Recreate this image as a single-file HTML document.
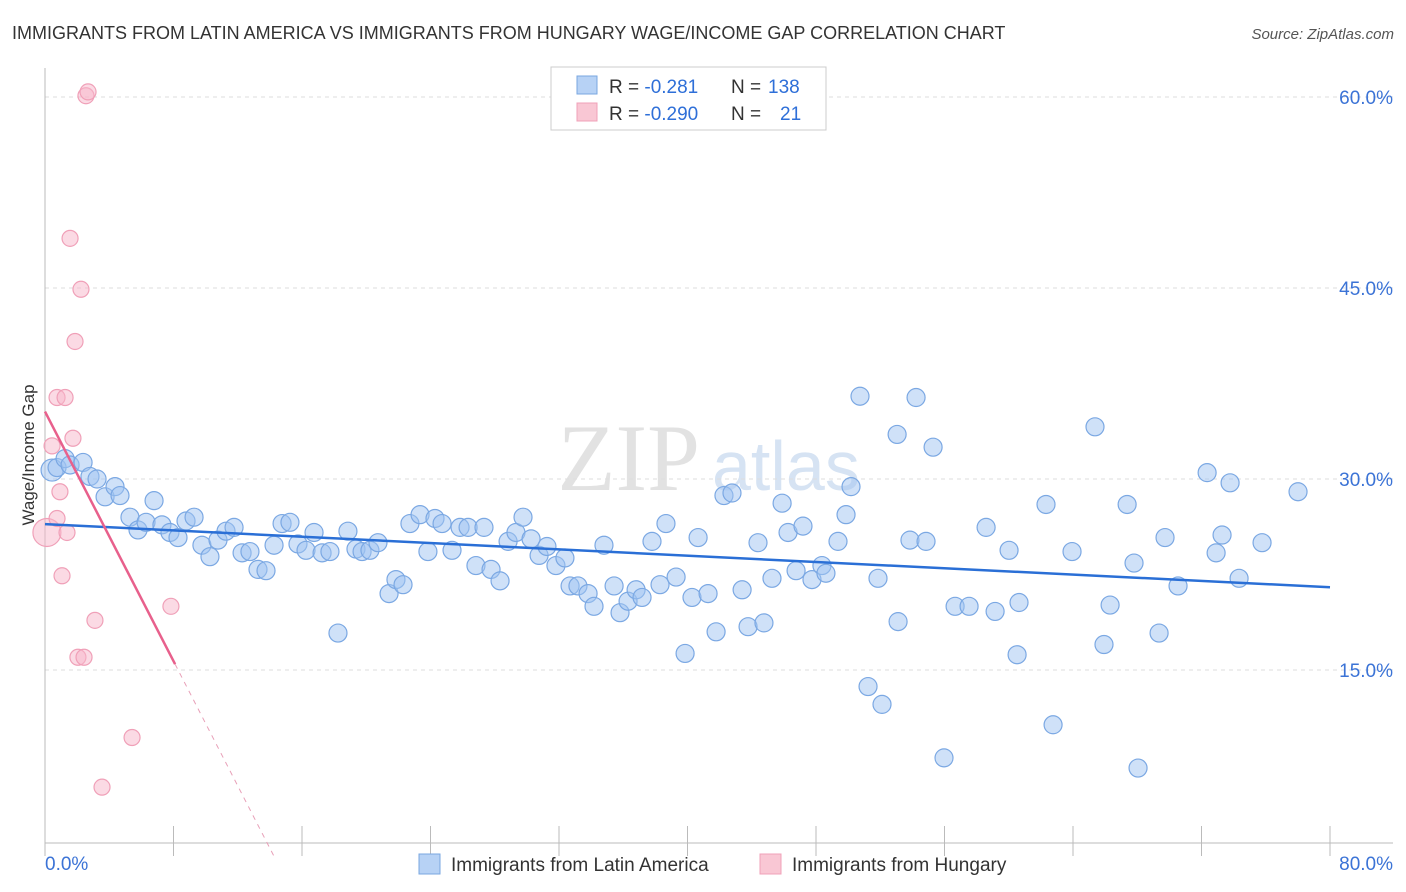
<!DOCTYPE html>
<html><head><meta charset="utf-8"><style>
body{margin:0;background:#fff;font-family:"Liberation Sans",sans-serif}
#c{position:relative;width:1406px;height:892px;overflow:hidden}
</style></head><body>
<div id="c">
<svg id="s" width="1406" height="892" xmlns="http://www.w3.org/2000/svg">
<text x="12" y="39" font-size="18" fill="#333">IMMIGRANTS FROM LATIN AMERICA VS IMMIGRANTS FROM HUNGARY WAGE/INCOME GAP CORRELATION CHART</text>
<text x="1394" y="39" font-size="15" fill="#555" font-style="italic" text-anchor="end">Source: ZipAtlas.com</text>
<text x="700" y="490" font-size="95" fill="#e2e2e2" font-family="Liberation Serif" text-anchor="end">ZIP</text>
<text x="712" y="490" font-size="70" fill="#d6e3f3">atlas</text>
<text transform="translate(34,455) rotate(-90)" font-size="17" fill="#333" text-anchor="middle">Wage/Income Gap</text>
<g id="grid"></g><g id="axes"></g><g id="marks"></g>
<g>
<rect x="551" y="67" width="275" height="63" fill="#fff" stroke="#ccc"/>
<rect x="577" y="76" width="20" height="18" fill="#b7d2f5" stroke="#7aa7e0"/>
<rect x="577" y="103" width="20" height="18" fill="#f9c7d4" stroke="#f0a0b8"/>
<text x="609" y="93" font-size="19" fill="#333">R = <tspan fill="#2e6fd8">-0.281</tspan><tspan x="731">N = </tspan><tspan fill="#2e6fd8" x="768">138</tspan></text>
<text x="609" y="120" font-size="19" fill="#333">R = <tspan fill="#2e6fd8">-0.290</tspan><tspan x="731">N = </tspan><tspan fill="#2e6fd8" x="780">21</tspan></text>
</g>
<g>
<rect x="419" y="854" width="21" height="20" fill="#b7d2f5" stroke="#7aa7e0"/>
<text x="451" y="871" font-size="19" fill="#333">Immigrants from Latin America</text>
<rect x="760" y="854" width="21" height="20" fill="#f9c7d4" stroke="#f0a0b8"/>
<text x="792" y="871" font-size="19" fill="#333">Immigrants from Hungary</text>
</g>
</svg></div>
<script>
const xTicks=[0,10,20,30,40,50,60,70,80];
const yTicks=[15,30,45,60];
const blueX=[0.44,0.75,1.25,1.56,2.37,2.8,3.24,3.74,4.36,4.67,5.29,5.79,6.29,6.79,7.28,7.78,8.28,8.78,9.28,9.77,10.27,10.77,11.27,11.77,12.27,12.76,13.26,13.76,14.26,14.76,15.25,15.75,16.25,16.75,17.25,17.74,18.24,18.86,19.36,19.74,20.23,20.73,21.42,21.85,22.29,22.72,23.35,23.84,24.28,24.72,25.34,25.84,26.34,26.83,27.33,27.77,28.33,28.83,29.32,29.76,30.26,30.76,31.25,31.81,32.37,32.69,33.18,33.81,34.18,34.8,35.43,35.8,36.3,36.8,37.17,37.79,38.29,38.66,39.29,39.85,40.28,40.66,41.28,41.78,42.27,42.77,43.4,43.77,44.39,44.76,45.26,45.89,46.26,46.76,47.19,47.75,48.37,48.62,49.37,49.87,50.18,50.74,51.24,51.86,52.11,53.05,53.11,53.85,54.23,54.85,55.29,55.97,56.66,57.53,58.59,59.15,60.02,60.52,60.64,62.32,62.76,63.94,65.37,65.93,66.31,67.37,67.8,68.05,69.36,69.73,70.54,72.35,72.91,73.28,73.78,74.34,75.77,78.01];
const blueY=[30.7,30.9,31.6,31.1,31.3,30.2,30.0,28.6,29.4,28.7,27.0,26.0,26.6,28.3,26.4,25.8,25.4,26.7,27.0,24.8,23.9,25.2,25.9,26.2,24.2,24.3,22.9,22.8,24.8,26.5,26.6,24.9,24.4,25.8,24.2,24.3,17.9,25.9,24.5,24.3,24.4,25.0,21.0,22.1,21.7,26.5,27.2,24.3,26.9,26.5,24.4,26.2,26.2,23.2,26.2,22.9,22.0,25.1,25.8,27.0,25.3,24.0,24.7,23.2,23.8,21.6,21.6,21.0,20.0,24.8,21.6,19.5,20.4,21.3,20.7,25.1,21.7,26.5,22.3,16.3,20.7,25.4,21.0,18.0,28.7,28.9,21.3,18.4,25.0,18.7,22.2,28.1,25.8,22.8,26.3,22.1,23.2,22.6,25.1,27.2,29.4,36.5,13.7,22.2,12.3,33.5,18.8,25.2,36.4,25.1,32.5,8.1,20.0,20.0,26.2,19.6,24.4,16.2,20.3,28.0,10.7,24.3,34.1,17.0,20.1,28.0,23.4,7.3,17.9,25.4,21.6,30.5,24.2,25.6,29.7,22.2,25.0,29.0];
const pinkX=[0.12,0.44,0.75,0.75,0.93,1.06,1.25,1.37,1.56,1.74,1.87,2.05,2.24,2.43,2.55,2.68,3.11,3.55,5.42,7.84];
const pinkY=[25.8,32.6,36.4,26.9,29.0,22.4,36.4,25.8,48.9,33.2,40.8,16.0,44.9,16.0,60.1,60.4,18.9,5.8,9.7,20.0];
const blueTrend=[26.46,21.5];   // y at x=0 and x=80
const pinkTrend=[35.3,-2.45];   // intercept, slope per x unit
const pinkSolidEnd=8.1, pinkDashEnd=14.35;
const NS="http://www.w3.org/2000/svg";
const X=v=>45+v/80*1285, Y=v=>861-v/15*191;
function mk(t,a,p){const e=document.createElementNS(NS,t);for(const k in a)e.setAttribute(k,a[k]);p.appendChild(e);return e;}
const grid=document.getElementById('grid'),axes=document.getElementById('axes'),marks=document.getElementById('marks');
yTicks.forEach(t=>{
 const l=mk('line',{x1:45,x2:1393,y1:Y(t),y2:Y(t),stroke:'#ddd','stroke-dasharray':'4,4'},grid);
 
 
 const tx=mk('text',{x:1393,y:Y(t)+7,'font-size':19,fill:'#3b73d6','text-anchor':'end'},axes);
 tx.textContent=t.toFixed(1)+'%';
 
 
});
let ax=mk('line',{x1:45,x2:45,y1:68,y2:843,stroke:'#bbb'},axes);


ax=mk('line',{x1:45,x2:1393,y1:843,y2:843,stroke:'#bbb'},axes);


for(let i=0;i<=10;i++){const tk=mk('line',{x1:X(i*8),x2:X(i*8),y1:826,y2:856,stroke:'#bbb'},axes);
 
 }
[[0,'0.0%','start',45],[80,'80.0%','end',1393]].forEach(d=>{const t=mk('text',{x:d[3],y:870,'font-size':19,fill:'#3b73d6','text-anchor':d[2]},axes);t.textContent=d[1];
 
 });
blueX.forEach((x,i)=>{const c=mk('circle',{cx:X(x),cy:Y(blueY[i]),r:i==0?11:9,fill:'rgba(160,196,242,0.5)',stroke:'#7ba8e3','stroke-width':1.2},marks);
 
 });
pinkX.forEach((x,i)=>{const c=mk('circle',{cx:X(x),cy:Y(pinkY[i]),r:i==0?14:8,fill:'rgba(248,182,202,0.5)',stroke:'#f0a0b8','stroke-width':1.2},marks);
 
 });
let l=mk('line',{x1:X(0),y1:Y(blueTrend[0]),x2:X(80),y2:Y(blueTrend[1]),stroke:'#2a6fd6','stroke-width':2.5},marks);


const py=x=>pinkTrend[0]+pinkTrend[1]*x;
l=mk('line',{x1:X(0),y1:Y(py(0)),x2:X(pinkSolidEnd),y2:Y(py(pinkSolidEnd)),stroke:'#e8608c','stroke-width':2.5},marks);


l=mk('line',{x1:X(pinkSolidEnd),y1:Y(py(pinkSolidEnd)),x2:X(pinkDashEnd),y2:Y(py(pinkDashEnd)),stroke:'#e8a0b8','stroke-width':1,'stroke-dasharray':'5,5'},marks);


</script>
</body></html>
